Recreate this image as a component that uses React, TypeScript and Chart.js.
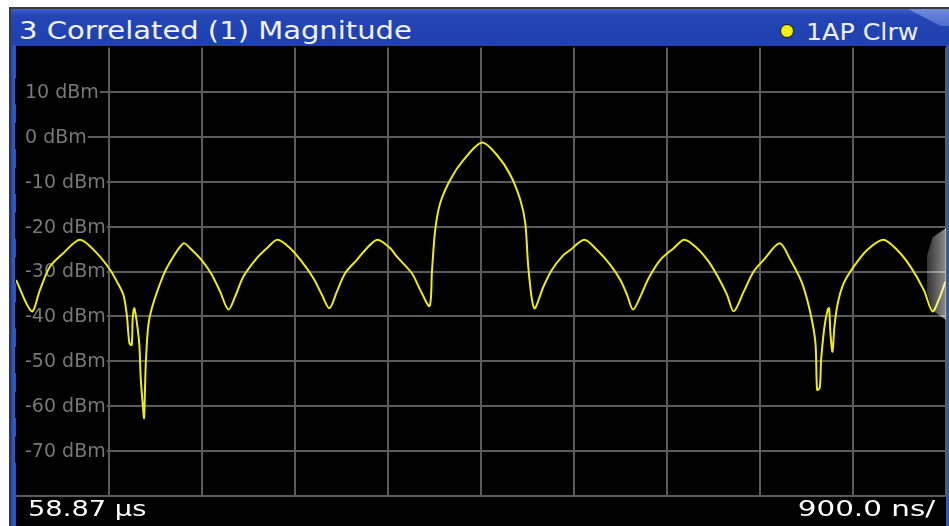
import React, { useEffect, useRef } from "react";
import { Chart, registerables } from "chart.js";

Chart.register(...registerables);

// time axis in divisions (900 ns/div, start 58.87 µs)
const timeDivs = [
  0, 0.169, 0.258, 0.366, 0.509, 0.689, 0.869, 1.012, 1.084, 1.155,
  1.192, 1.22, 1.245, 1.256, 1.273, 1.299, 1.327, 1.342, 1.364, 1.378,
  1.389, 1.399, 1.424, 1.461, 1.532, 1.622, 1.801, 1.873, 1.999, 2.107,
  2.196, 2.285, 2.357, 2.447, 2.591, 2.699, 2.813, 2.949, 3.075, 3.2,
  3.291, 3.372, 3.452, 3.541, 3.667, 3.775, 3.889, 4.026, 4.098, 4.259,
  4.349, 4.449, 4.475, 4.51, 4.564, 4.672, 4.815, 5.013, 5.174, 5.317,
  5.425, 5.479, 5.514, 5.576, 5.676, 5.766, 5.891, 5.963, 6.114, 6.251,
  6.394, 6.502, 6.574, 6.638, 6.717, 6.806, 6.932, 7.075, 7.19, 7.327,
  7.452, 7.56, 7.65, 7.721, 7.829, 7.936, 8.044, 8.216, 8.331, 8.457,
  8.547, 8.601, 8.619, 8.647, 8.662, 8.698, 8.733, 8.748, 8.762, 8.784,
  8.805, 8.841, 8.905, 9.013, 9.157, 9.329, 9.48, 9.623, 9.766, 9.86,
  9.928, 10.0,
];

const levelDbm = [
  -31.9, -38.9, -34.1, -28.9, -25.9, -22.9, -25.9, -29.6, -32.2, -35.2,
  -39.7, -46.0, -46.4, -40.3, -38.2, -41.2, -46.4, -53.8, -59.8, -62.7,
  -55.3, -49.3, -41.9, -38.2, -33.7, -29.2, -23.7, -24.8, -27.5, -30.7,
  -34.5, -38.5, -35.6, -31.1, -27.0, -24.8, -22.9, -24.8, -27.8, -31.5,
  -35.2, -38.2, -34.5, -30.4, -27.4, -24.8, -22.9, -24.8, -26.7, -30.4,
  -34.1, -37.7, -30.0, -20.7, -14.7, -9.5, -5.1, -1.2, -4.0, -8.4,
  -14.0, -19.2, -29.6, -38.2, -33.3, -29.6, -26.3, -25.2, -22.9, -25.2,
  -28.5, -31.9, -35.2, -38.5, -35.6, -31.5, -27.4, -24.8, -22.9, -24.8,
  -27.8, -31.5, -35.2, -38.9, -34.5, -30.0, -27.4, -23.7, -27.4, -32.6,
  -39.3, -46.0, -56.4, -56.0, -49.7, -42.3, -38.5, -38.2, -43.8, -47.9,
  -42.3, -37.1, -32.6, -28.9, -25.2, -22.9, -25.2, -28.9, -34.1, -38.9,
  -36.3, -32.2,
];

const labelledLevels = [10, 0, -10, -20, -30, -40, -50, -60, -70];
const levelUnit = "dBm";
const titleText = "3 Correlated (1) Magnitude";
const traceText = "1AP Clrw";
const startText = "58.87 µs";
const spanText = "900.0 ns/";

const GRID = "#5c5c5c";

const labelPlugin = {
  id: "dbmLabels",
  beforeDatasetsDraw(chart: any) {
    const { ctx, chartArea } = chart;
    const y = chart.scales.y;
    ctx.save();
    ctx.font = '19px "DejaVu Sans"';
    ctx.textBaseline = "middle";
    ctx.textAlign = "left";
    for (const t of y.ticks) {
      if (!labelledLevels.includes(t.value)) continue;
      const text = `${t.value} ${levelUnit}`;
      const py = y.getPixelForValue(t.value);
      const w = ctx.measureText(text).width;
      ctx.fillStyle = "#000";
      ctx.fillRect(chartArea.left - 1, py - 14, 9 + w + 2, 26);
      ctx.fillStyle = "#787878";
      ctx.fillText(text, chartArea.left + 9, py + 1);
    }
    ctx.restore();
  },
};

export default function App() {
  const ref = useRef<HTMLCanvasElement>(null);

  useEffect(() => {
    if (!ref.current) return;
    const chart = new Chart(ref.current, {
      type: "line",
      data: {
        datasets: [
          {
            data: timeDivs.map((x, i) => ({ x, y: levelDbm[i] })),
            borderColor: "#ecec1c",
            borderWidth: 2,
            pointRadius: 0,
            tension: 0.3,
            fill: false,
          },
        ],
      },
      options: {
        responsive: false,
        animation: false,
        devicePixelRatio: 1,
        layout: { padding: { left: 16, top: 47.5, right: 3.5, bottom: 30.5 } },
        plugins: { legend: { display: false }, tooltip: { enabled: false } },
        scales: {
          x: {
            type: "linear",
            min: 0,
            max: 10,
            ticks: { display: false, stepSize: 1 },
            border: { display: false },
            grid: {
              drawTicks: false,
              lineWidth: 2,
              color: (c: any) => (c.tick && c.tick.value === 0 ? "rgba(0,0,0,0)" : GRID),
            },
          },
          y: {
            min: -80,
            max: 20,
            ticks: { display: false, stepSize: 10 },
            border: { display: false },
            grid: {
              drawTicks: false,
              lineWidth: 2,
              color: (c: any) => (c.tick && c.tick.value === 20 ? "rgba(0,0,0,0)" : GRID),
            },
          },
        },
      },
      plugins: [labelPlugin],
    });
    return () => chart.destroy();
  }, []);

  const font = '"DejaVu Sans", Verdana, sans-serif';

  return (
    <div
      style={{
        position: "fixed",
        left: 0,
        top: 0,
        width: 949,
        height: 526,
        background: "#fff",
        overflow: "hidden",
        fontFamily: font,
      }}
    >
      <div style={{ position: "absolute", left: 9, top: 7, width: 940, height: 519, background: "#3a3a3a" }} />
      <div
        style={{
          position: "absolute",
          left: 11,
          top: 9,
          width: 938,
          height: 517,
          background: "linear-gradient(#4062cc 0px, #2446b6 6px, #1f40ae 36px)",
        }}
      />
      <div style={{ position: "absolute", left: 12, top: 45, width: 4, height: 481, background: "#2c58c4" }} />
      <div style={{ position: "absolute", left: 946, top: 45, width: 3, height: 481, background: "#2c58c4" }} />
      <div
        style={{
          position: "absolute",
          left: 908,
          top: 9,
          width: 41,
          height: 17,
          background: "linear-gradient(#6f8ad8, #4e6ecf)",
          clipPath: "polygon(0 0, 100% 0, 100% 100%, 80% 100%)",
        }}
      />
      <div
        style={{
          position: "absolute",
          left: 19,
          top: 18,
          fontSize: 25,
          lineHeight: "25px",
          color: "#f2f2f2",
          whiteSpace: "nowrap",
          transform: "scaleX(1.16)",
          transformOrigin: "left top",
        }}
      >
        {titleText}
      </div>
      <div
        style={{
          position: "absolute",
          left: 779.5,
          top: 23.5,
          width: 12,
          height: 12,
          borderRadius: "50%",
          background: "#f2f200",
          border: "1.5px solid #111",
        }}
      />
      <div
        style={{
          position: "absolute",
          left: 806,
          top: 21,
          fontSize: 23,
          lineHeight: "23px",
          color: "#eef0f8",
          whiteSpace: "nowrap",
          transform: "scaleX(1.1)",
          transformOrigin: "left top",
        }}
      >
        {traceText}
      </div>
      <div style={{ position: "absolute", left: 16, top: 46, width: 930, height: 480, background: "#000" }} />
      <canvas
        ref={ref}
        width={949}
        height={526}
        style={{ position: "absolute", left: 0, top: 0, width: 949, height: 526 }}
      />
      <div
        style={{
          position: "absolute",
          left: 927,
          top: 228,
          width: 19,
          height: 92,
          background: "linear-gradient(90deg, rgba(255,255,255,0.2), rgba(255,255,255,0.55))",
          clipPath: "polygon(30% 10%, 100% 0, 100% 100%, 30% 90%, 0 70%, 0 30%)",
          pointerEvents: "none",
        }}
      />
      <div
        style={{
          position: "absolute",
          left: 28,
          top: 499,
          fontSize: 21,
          lineHeight: "21px",
          color: "#fff",
          whiteSpace: "nowrap",
          transform: "scaleX(1.3)",
          transformOrigin: "left top",
        }}
      >
        {startText}
      </div>
      <div
        style={{
          position: "absolute",
          right: 14,
          top: 499,
          fontSize: 21,
          lineHeight: "21px",
          color: "#fff",
          whiteSpace: "nowrap",
          transform: "scaleX(1.4)",
          transformOrigin: "right top",
        }}
      >
        {spanText}
      </div>
    </div>
  );
}
